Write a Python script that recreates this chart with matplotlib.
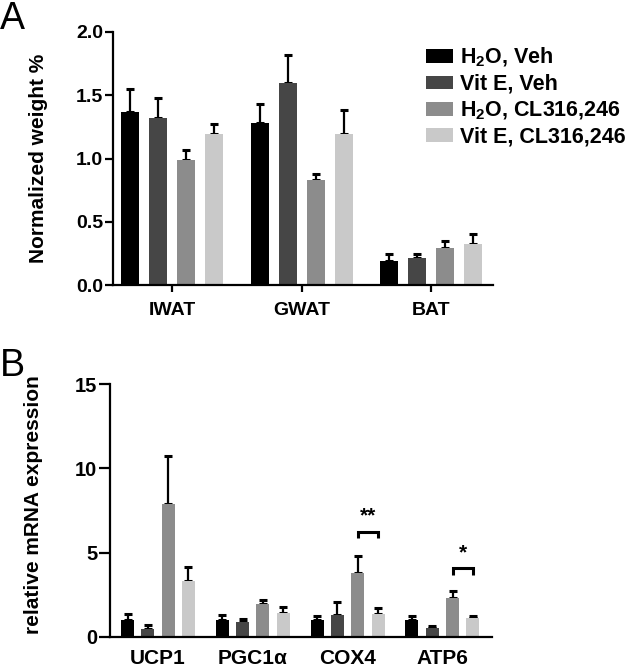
import numpy as np
import matplotlib
matplotlib.use("Agg")
import matplotlib.pyplot as plt
from matplotlib.patches import Patch

plt.rcParams['font.family'] = ['Liberation Sans', 'DejaVu Sans']
plt.rcParams['font.weight'] = 'bold'
plt.rcParams['axes.labelweight'] = 'bold'
plt.rcParams['mathtext.fontset'] = 'custom'
plt.rcParams['mathtext.rm'] = 'Liberation Sans:bold'
plt.rcParams['mathtext.bf'] = 'Liberation Sans:bold'
plt.rcParams['mathtext.default'] = 'bf'

# groups / legend
groups = ['H$_2$O, Veh', 'Vit E, Veh', 'H$_2$O, CL316,246', 'Vit E, CL316,246']
colors = ['#000000', '#464646', '#8c8c8c', '#c9c9c9']

# panel A - tissue weights
tissues = ['IWAT', 'GWAT', 'BAT']
weight_mean = [[1.37, 1.28, 0.19],
               [1.32, 1.60, 0.21],
               [0.99, 0.83, 0.295],
               [1.19, 1.19, 0.325]]
weight_err = [[0.18, 0.15, 0.055],
              [0.16, 0.22, 0.035],
              [0.08, 0.045, 0.055],
              [0.085, 0.19, 0.08]]

# panel B - gene expression
genes = ['UCP1', 'PGC1α', 'COX4', 'ATP6']
expr_mean = [[0.98, 0.98, 0.98, 0.98],
             [0.45, 0.87, 1.30, 0.55],
             [7.88, 1.97, 3.81, 2.29],
             [3.34, 1.40, 1.34, 1.13]]
expr_err = [[0.40, 0.34, 0.24, 0.28],
            [0.24, 0.21, 0.75, 0.10],
            [2.83, 0.24, 0.97, 0.45],
            [0.81, 0.40, 0.36, 0.13]]

# significance: (gene index, bracket height, label)
sig = [(2, 6.25, '**'), (3, 4.08, '*')]

W, H = 633, 670
fig = plt.figure(figsize=(W / 100, H / 100), dpi=100)


def style_axis(ax, tick_fs, tick_len):
    for s in ['top', 'right']:
        ax.spines[s].set_visible(False)
    for s in ['left', 'bottom']:
        ax.spines[s].set_linewidth(1.6)
    ax.tick_params(axis='y', length=tick_len, width=1.6, labelsize=tick_fs, pad=1)
    ax.tick_params(axis='x', labelsize=tick_fs, pad=6)


def bars(ax, means, errs, step, width):
    x = np.arange(len(means[0]))
    for i in range(4):
        xi = x + (i - 1.5) * step
        ax.bar(xi, means[i], width, color=colors[i], zorder=2)
        ax.errorbar(xi, means[i], yerr=[np.zeros(len(errs[i])), errs[i]],
                    fmt='none', ecolor='black', elinewidth=1.6,
                    capsize=3.2, capthick=2.2, zorder=1)
    return x


# ---- panel A
axA = fig.add_axes([113 / W, 1 - 285 / H, 380 / W, 253 / H])
style_axis(axA, 14, 6)
step_a = 28 / 129.5
x = bars(axA, weight_mean, weight_err, step_a, 18 / 129.5)
axA.set_xticks(x)
axA.set_xticklabels(tissues)
axA.tick_params(axis='x', length=5, width=1.6, pad=7)
axA.set_xlim(-0.456, 2.479)
axA.set_ylim(0, 2.0)
axA.set_yticks([0, 0.5, 1.0, 1.5, 2.0])
axA.set_yticklabels(['0.0', '0.5', '1.0', '1.5', '2.0'])
axA.set_ylabel('Normalized weight %', fontsize=15)
axA.yaxis.set_label_coords(-0.17, 0.5)

handles = [Patch(facecolor=c, edgecolor='none') for c in colors]
fig.legend(handles, groups, loc='upper left', bbox_to_anchor=(426 / W, 1 - 46 / H),
           frameon=False, fontsize=15.5, handlelength=1.26, handleheight=0.6,
           handletextpad=0.33, labelspacing=0.22, borderpad=0, borderaxespad=0)

# ---- panel B
axB = fig.add_axes([110 / W, 1 - 637 / H, 382 / W, 253 / H])
style_axis(axB, 14.5, 8)
axB.tick_params(axis='x', labelsize=15)
step_b = 20.3 / 94.8
x = bars(axB, expr_mean, expr_err, step_b, 13 / 94.8)
axB.set_xticks(x)
axB.set_xticklabels(genes)
axB.tick_params(axis='x', length=0, pad=9)
axB.set_xlim(-0.506, 3.523)
axB.set_ylim(0, 15)
axB.set_yticks([0, 5, 10, 15])
axB.set_ylabel('relative mRNA expression', fontsize=15)
axB.yaxis.set_label_coords(-0.175, 0.525)

for gi, yb, lab in sig:
    x1 = gi + 0.5 * step_b
    x2 = gi + 1.5 * step_b
    axB.plot([x1, x1, x2, x2], [yb - 0.38, yb, yb, yb - 0.38], color='black',
             lw=2.2, solid_capstyle='butt', solid_joinstyle='miter')
    axB.text((x1 + x2) / 2, yb + 0.35, lab, ha='center', va='bottom', fontsize=15)

fig.text(0.0, 1 - 1 / H, 'A', fontsize=27, fontweight='normal', va='top', ha='left')
fig.text(0.0, 1 - 348 / H, 'B', fontsize=27, fontweight='normal', va='top', ha='left')

fig.savefig('out.png', dpi=100)
